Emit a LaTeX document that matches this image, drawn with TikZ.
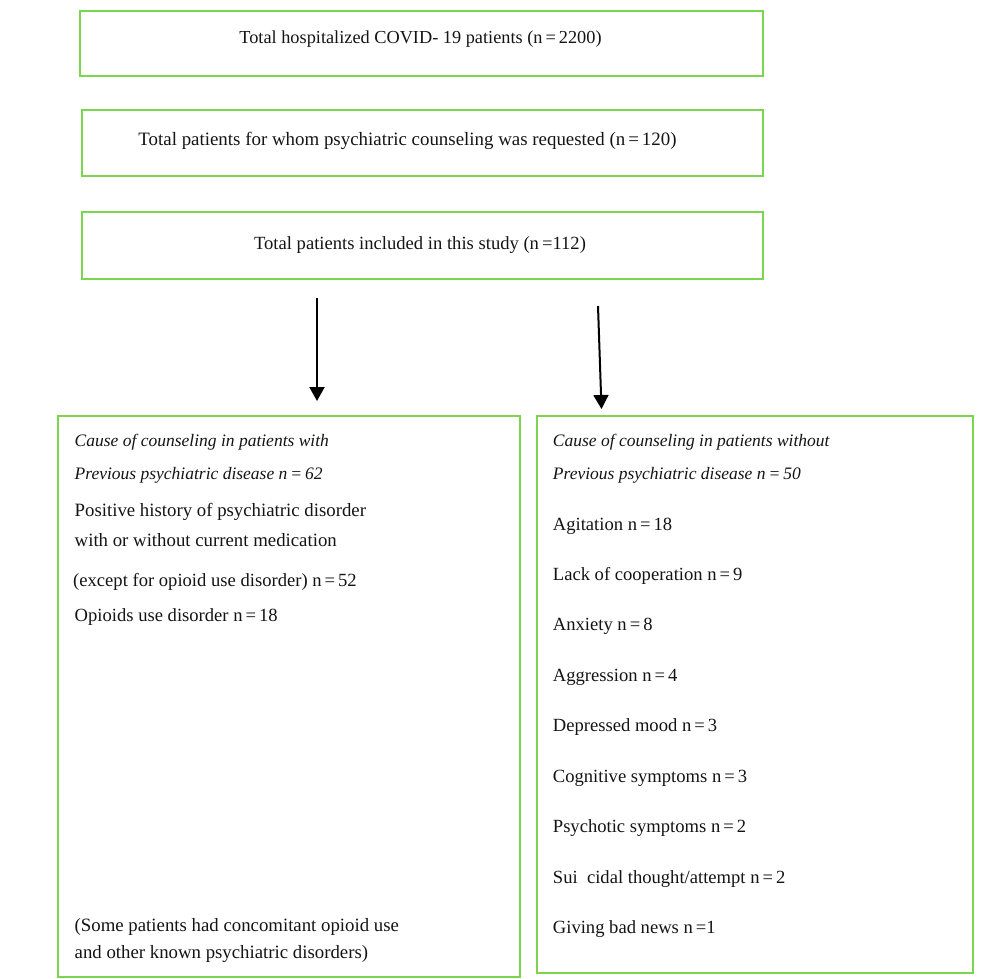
\documentclass[tikz,border=0pt]{standalone}
\usepackage{fontspec}
\setmainfont{Liberation Serif}
\usetikzlibrary{arrows.meta}
\definecolor{boxgreen}{RGB}{122,214,78}
\definecolor{inkc}{RGB}{20,20,20}
\newcommand{\eqs}{\hspace{3pt}=\hspace{3pt}}
\newcommand{\eql}{\hspace{3pt}=}
\tikzset{
 box/.style={draw=boxgreen, line width=1.8pt, inner sep=0pt, anchor=north west},
 txt/.style={anchor=base west, inner sep=0pt, text=inkc, font=\fontsize{18.6}{22}\selectfont},
 itxt/.style={txt, font=\fontsize{17.5}{21}\selectfont\itshape},
 ctxt/.style={anchor=base, inner sep=0pt, text=inkc, font=\fontsize{18.6}{22}\selectfont},
 arr/.style={line width=2pt, draw=black, -{Triangle[width=15pt,length=14pt]}}
}
\begin{document}
\begin{tikzpicture}[x=1pt,y=-1pt]
\useasboundingbox (0,0) rectangle (1000,978);
% top boxes
\node[box, minimum width=683pt, minimum height=65pt] (b1) at (79,10) {};
\node[box, minimum width=681pt, minimum height=66pt] (b2) at (81,109) {};
\node[box, minimum width=681pt, minimum height=67pt] (b3) at (81,211) {};
\node[ctxt, font=\fontsize{18.3}{22}\selectfont] (t1) at (420.5,43.3) {Total hospitalized COVID- 19 patients (n\eqs 2200)};
\node[ctxt, font=\fontsize{18.9}{22}\selectfont] (t2) at (407.5,145.7) {Total patients for whom psychiatric counseling was requested (n\eqs 120)};
\node[ctxt] (t3) at (420,249) {Total patients included in this study (n\eql 112)};
% arrows
\coordinate (a1s) at (317,298);
\coordinate (a1e) at (317,401);
\coordinate (a2s) at (598,306);
\coordinate (a2e) at (601.5,409);
\draw[arr] (a1s) -- (a1e);
\draw[arr] (a2s) -- (a2e);
% lower boxes
\node[box, minimum width=462pt, minimum height=561pt] (bl) at (57,415) {};
\node[box, minimum width=436pt, minimum height=557pt] (br) at (536,415) {};
% left text
\node[itxt] (l1) at (74.5,446.7) {Cause of counseling in patients with};
\node[itxt] (l2) at (74.5,479) {Previous psychiatric disease n\eqs 62};
\node[txt, font=\fontsize{18.8}{22}\selectfont] (l3) at (74.5,516) {Positive history of psychiatric disorder};
\node[txt, font=\fontsize{18.8}{22}\selectfont] (l4) at (74.5,546.7) {with or without current medication};
\node[txt] (l5) at (73,586) {(except for opioid use disorder) n\eqs 52};
\node[txt] (l6) at (74.5,621.7) {Opioids use disorder n\eqs 18};
\node[txt, font=\fontsize{18.8}{22}\selectfont] (l7) at (74.5,931) {(Some patients had concomitant opioid use};
\node[txt, font=\fontsize{18.8}{22}\selectfont] (l8) at (74.5,958) {and other known psychiatric disorders)};
% right text
\node[itxt] (r1) at (552.7,446.7) {Cause of counseling in patients without};
\node[itxt] (r2) at (552.7,479) {Previous psychiatric disease n\eqs 50};
\node[txt] (r3) at (552.7,530) {Agitation n\eqs 18};
\node[txt] (r4) at (552.7,580) {Lack of cooperation n\eqs 9};
\node[txt] (r5) at (552.7,630.7) {Anxiety n\eqs 8};
\node[txt] (r6) at (552.7,681.7) {Aggression n\eqs 4};
\node[txt] (r7) at (552.7,731.7) {Depressed mood n\eqs 3};
\node[txt] (r8) at (552.7,782) {Cognitive symptoms n\eqs 3};
\node[txt] (r9) at (552.7,832.7) {Psychotic symptoms n\eqs 2};
\node[txt] (r10) at (552.7,883) {Sui\ \ cidal thought/attempt n\eqs 2};
\node[txt] (r11) at (552.7,933) {Giving bad news n\eql 1};
\end{tikzpicture}
\end{document}
